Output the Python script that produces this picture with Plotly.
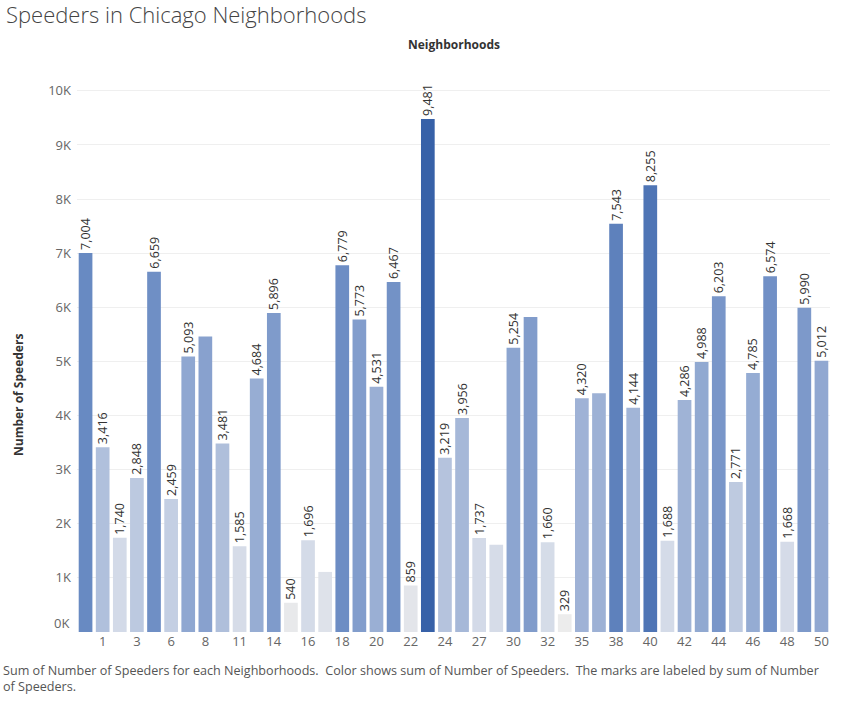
import plotly.graph_objects as go

neighborhoods = ["0", "1", "2", "3", "4", "6", "7", "8", "10", "11",
                 "13", "14", "15", "16", "17", "18", "19", "20", "21", "22",
                 "23", "24", "25", "27", "28", "30", "31", "32", "34", "35",
                 "36", "38", "39", "40", "41", "42", "43", "44", "45", "46",
                 "47", "48", "49", "50"]
speeders = [7004, 3416, 1740, 2848, 6659, 2459, 5093, 5460, 3481, 1585,
            4684, 5896, 540, 1696, 1110, 6779, 5773, 4531, 6467, 859,
            9481, 3219, 3956, 1737, 1610, 5254, 5820, 1660, 329, 4320,
            4410, 7543, 4144, 8255, 1688, 4286, 4988, 6203, 2771, 4785,
            6574, 1668, 5990, 5012]
# marks whose labels Tableau hid because of overlap
hidden_labels = ["8", "17", "28", "31", "36"]
shown_ticks = ["1", "3", "6", "8", "11", "14", "16", "18", "20", "22", "24",
               "27", "30", "32", "35", "38", "40", "42", "44", "46", "48", "50"]
y_ticks = [0, 1000, 2000, 3000, 4000, 5000, 6000, 7000, 8000, 9000, 10000]
y_tick_text = ["0K", "1K", "2K", "3K", "4K", "5K", "6K", "7K", "8K", "9K", "10K"]

labels = ["" if n in hidden_labels else f"{v:,}" for n, v in zip(neighborhoods, speeders)]

FONT = "Open Sans"

fig = go.Figure(go.Bar(
    x=neighborhoods, y=speeders,
    text=labels, textposition="outside", textangle=-90,
    textfont=dict(family=FONT, size=12.5, color="#333333"),
    cliponaxis=False,
    marker=dict(
        color=speeders, cmin=min(speeders), cmax=max(speeders),
        colorscale=[[0.0, "#ececec"], [0.15, "#d4dbe8"], [0.35, "#aebedb"],
                    [0.55, "#8aa3cf"], [0.72, "#6a8bc3"], [1.0, "#3761a8"]],
        line=dict(width=0),
    ),
    hoverinfo="x+y",
))

# Tableau nudges the bottom tick label up to keep it inside the pane
axis_ticktext = [""] + y_tick_text[1:]

fig.update_layout(
    width=843, height=702,
    margin=dict(l=77, r=13, t=60, b=70),
    paper_bgcolor="white", plot_bgcolor="white",
    bargap=0.2,
    showlegend=False,
    uniformtext=dict(minsize=12, mode="show"),
    font=dict(family=FONT, color="#666666"),
    title=dict(text="Speeders in Chicago Neighborhoods",
               font=dict(family=FONT, size=22, color="#444444", weight=300),
               xref="container", yref="container", x=6/843, xanchor="left",
               y=1-15/702, yanchor="middle"),
    xaxis=dict(type="category", tickvals=shown_ticks, ticktext=shown_ticks,
               tickfont=dict(family=FONT, size=13, color="#666666"),
               showgrid=False, showline=False, ticks="", ticklen=0),
    yaxis=dict(range=[0, 10570], tickvals=y_ticks, ticktext=axis_ticktext,
               tickfont=dict(family=FONT, size=13, color="#666666"),
               ticklabelstandoff=5,
               showgrid=True, gridcolor="#efefef", gridwidth=1,
               zeroline=False, showline=False, ticks=""),
    annotations=[
        dict(text=y_tick_text[0], xref="paper", yref="y", x=0, y=y_ticks[0],
             xanchor="right", yanchor="middle", xshift=-6, yshift=9,
             showarrow=False, font=dict(family=FONT, size=13, color="#666666")),
        dict(text="<b>Neighborhoods</b>", xref="paper", yref="paper",
             x=0.5, y=1+15/572, xanchor="center", yanchor="middle",
             showarrow=False, font=dict(family=FONT, size=12, color="#333333")),
        dict(text="<b>Number of Speeders</b>", xref="paper", yref="paper",
             x=-59/753, y=(632-395)/572, textangle=-90,
             xanchor="center", yanchor="middle",
             showarrow=False, font=dict(family=FONT, size=12, color="#333333")),
        dict(text="Sum of Number of Speeders for each Neighborhoods.  Color shows sum of Number of Speeders.  The marks are labeled by sum of Number<br>of Speeders.",
             xref="paper", yref="paper", x=-76/753, y=-(660-632)/572,
             xanchor="left", yanchor="top", align="left",
             showarrow=False, font=dict(family=FONT, size=12.6, color="#555555")),
    ],
)

fig.write_html("out.html", config={"displayModeBar": False},
               post_script="document.body.style.margin='0';")
